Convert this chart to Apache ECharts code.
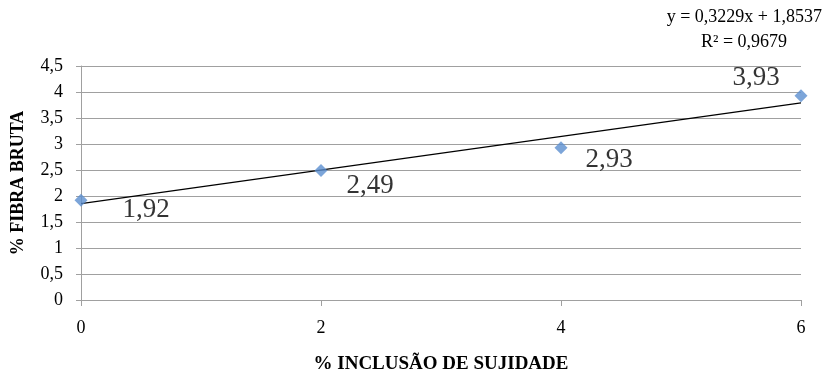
<!DOCTYPE html>
<html><head><meta charset="utf-8">
<script src="https://cdn.jsdelivr.net/npm/echarts@6/dist/echarts.min.js"></script>
<style>html,body{margin:0;padding:0;background:#fff}#c{width:828px;height:372px}</style>
</head><body><div id="c"></div>
<script>
const xValues = [0, 2, 4, 6];
const yValues = [1.92, 2.49, 2.93, 3.93];
const labels = ['1,92', '2,49', '2,93', '3,93'];
const trendX = [0, 6];
const trendY = [1.8537, 3.7911];
const eqText = 'y = 0,3229x + 1,8537';
const r2Text = 'R² = 0,9679';
const font = 'Liberation Serif';
const fmt = v => String(v).replace('.', ',');
const labelOffsets = [[65, 10], [49, 15], [48, 12], [-45, -18]];
const chart = echarts.init(document.getElementById('c'));
chart.setOption({
  animation: false,
  textStyle: {fontFamily: font},
  grid: {left: 81, right: 27, top: 66, bottom: 72, containLabel: false, outerBoundsMode: 'none'},
  xAxis: {
    type: 'value', min: 0, max: 6, interval: 2,
    name: '% INCLUSÃO DE SUJIDADE', nameLocation: 'middle', nameGap: 55,
    nameTextStyle: {fontFamily: font, fontWeight: 'bold', fontSize: 19, color: '#000'},
    axisLine: {show: true, lineStyle: {color: '#a0a0a0'}},
    axisTick: {show: true, length: 6, lineStyle: {color: '#a0a0a0'}},
    axisLabel: {fontFamily: font, fontSize: 18, color: '#000', margin: 19, formatter: fmt},
    splitLine: {show: false}
  },
  yAxis: {
    type: 'value', min: 0, max: 4.5, interval: 0.5,
    name: '% FIBRA BRUTA', nameLocation: 'middle', nameGap: 54,
    nameTextStyle: {fontFamily: font, fontWeight: 'bold', fontSize: 18, color: '#000'},
    axisLine: {show: true, lineStyle: {color: '#a0a0a0'}},
    axisTick: {show: true, length: 5, lineStyle: {color: '#a0a0a0'}},
    axisLabel: {fontFamily: font, fontSize: 18, color: '#000', margin: 18, formatter: fmt},
    splitLine: {show: true, lineStyle: {color: '#a0a0a0'}}
  },
  series: [
    {
      type: 'line', data: trendX.map((x, i) => [x, trendY[i]]),
      showSymbol: false, symbol: 'none', lineStyle: {color: '#000', width: 1.2}, z: 2
    },
    {
      type: 'scatter', symbol: 'diamond', symbolSize: 13,
      itemStyle: {color: '#5B8FD0'}, z: 3,
      data: xValues.map((x, i) => ({
        value: [x, yValues[i]],
        label: {show: true, formatter: labels[i], offset: labelOffsets[i],
          fontFamily: font, fontSize: 27, color: '#000'}
      }))
    }
  ],
  graphic: [
    {type: 'text', right: 6, top: 8, style: {text: eqText, font: '18px "Liberation Serif"', fill: '#000'}},
    {type: 'text', left: 701, top: 33, style: {text: r2Text, font: '18px "Liberation Serif"', fill: '#000'}}
  ]
});
</script></body></html>
